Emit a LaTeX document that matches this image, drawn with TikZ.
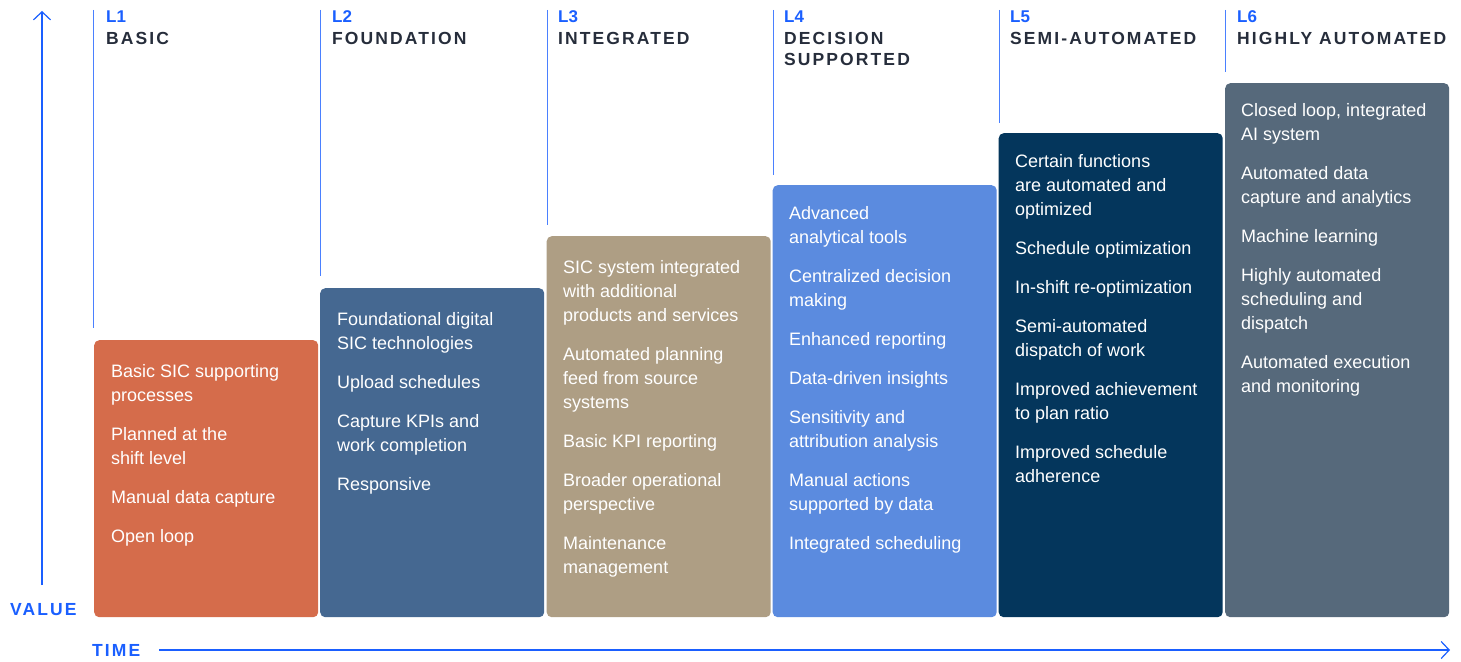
\documentclass[tikz,border=0pt]{standalone}
\usepackage{fontspec}
\setmainfont{Liberation Sans}
\newfontfamily\headfont[LetterSpace=12]{Liberation Sans Bold}
\newfontfamily\tagfont{Liberation Sans Bold}
\usetikzlibrary{arrows.meta}

\definecolor{axisblue}{HTML}{1A5FFF}
\definecolor{ruleblue}{HTML}{4A80FF}
\definecolor{headink}{HTML}{262D3B}
\definecolor{lvone}{HTML}{D56C4B}
\definecolor{lvtwo}{HTML}{456891}
\definecolor{lvthree}{HTML}{AE9E84}
\definecolor{lvfour}{HTML}{5B8BDF}
\definecolor{lvfive}{HTML}{04365C}
\definecolor{lvsix}{HTML}{56697B}

\tikzset{
  levelbox/.style={anchor=north west, inner sep=0pt, minimum width=224pt,
    rounded corners=5pt, draw=none},
  itemtext/.style={anchor=north west, inner sep=0pt, align=left, text=white,
    font=\fontsize{18}{24}\selectfont},
  leveltag/.style={anchor=base west, inner sep=0pt, text=axisblue,
    font=\tagfont\fontsize{17}{21}\selectfont},
  levelname/.style={anchor=base west, inner sep=0pt, align=left, text=headink,
    font=\headfont\fontsize{17.5}{21}\selectfont},
  axislabel/.style={anchor=base west, inner sep=0pt, text=axisblue,
    font=\headfont\fontsize{17.5}{21}\selectfont},
  divider/.style={draw=ruleblue, line width=1pt},
  axisline/.style={draw=axisblue, line width=1.2pt,
    -{Straight Barb[length=8pt,width=17pt,line width=1.2pt]}},
}

\begin{document}
\begin{tikzpicture}[x=1pt,y=-1pt]
\useasboundingbox (0,0) rectangle (1461,661);

% level columns: coloured boxes
\node[levelbox, fill=lvone,   minimum height=277pt] (b1) at (94,340) {};
\node[levelbox, fill=lvtwo,   minimum height=329pt] (b2) at (320,288) {};
\node[levelbox, fill=lvthree, minimum height=381pt] (b3) at (546.5,236) {};
\node[levelbox, fill=lvfour,  minimum height=432pt] (b4) at (772.5,185) {};
\node[levelbox, fill=lvfive,  minimum height=484pt] (b5) at (998.5,133) {};
\node[levelbox, fill=lvsix,   minimum height=534pt] (b6) at (1225,83) {};

% dividers above each box
\draw[divider] (93.5,10) -- (93.5,328);
\draw[divider] (320.5,10) -- (320.5,276);
\draw[divider] (547,10) -- (547,225);
\draw[divider] (773,10) -- (773,175);
\draw[divider] (999,10) -- (999,123);
\draw[divider] (1225.5,10) -- (1225.5,72);

% level tags and names
\node[leveltag] (k1) at (106,23) {L1};
\node[leveltag] (k2) at (332,23) {L2};
\node[leveltag] (k3) at (558,23) {L3};
\node[leveltag] (k4) at (784,23) {L4};
\node[leveltag] (k5) at (1010,23) {L5};
\node[leveltag] (k6) at (1237,23) {L6};

\node[levelname] (n1) at (106,44.5) {BASIC};
\node[levelname] (n2) at (332,44.5) {FOUNDATION};
\node[levelname] (n3) at (558,44.5) {INTEGRATED};
% two-line name: base anchor sits on the last line
\node[levelname] (n4) at (784,65.5) {DECISION\\SUPPORTED};
\node[levelname] (n5) at (1010,44.5) {SEMI-AUTOMATED};
\node[levelname] (n6) at (1237,44.5) {HIGHLY AUTOMATED};

% box contents
\node[itemtext] (t1) at (111,364) {Basic SIC supporting\\processes\\[15pt]Planned at the\\shift level\\[15pt]Manual data capture\\[15pt]Open loop};
\node[itemtext] (t2) at (337,312) {Foundational digital\\SIC technologies\\[15pt]Upload schedules\\[15pt]Capture KPIs and\\work completion\\[15pt]Responsive};
\node[itemtext] (t3) at (563,260) {SIC system integrated\\with additional\\products and services\\[15pt]Automated planning\\feed from source\\systems\\[15pt]Basic KPI reporting\\[15pt]Broader operational\\perspective\\[15pt]Maintenance\\management};
\node[itemtext] (t4) at (789,206) {Advanced\\analytical tools\\[15pt]Centralized decision\\making\\[15pt]Enhanced reporting\\[15pt]Data-driven insights\\[15pt]Sensitivity and\\attribution analysis\\[15pt]Manual actions\\supported by data\\[15pt]Integrated scheduling};
\node[itemtext] (t5) at (1015,154) {Certain functions\\are automated and\\optimized\\[15pt]Schedule optimization\\[15pt]In-shift re-optimization\\[15pt]Semi-automated\\dispatch of work\\[15pt]Improved achievement\\to plan ratio\\[15pt]Improved schedule\\adherence};
\node[itemtext] (t6) at (1241,103) {Closed loop, integrated\\AI system\\[15pt]Automated data\\capture and analytics\\[15pt]Machine learning\\[15pt]Highly automated\\scheduling and\\dispatch\\[15pt]Automated execution\\and monitoring};

% axes
\coordinate (vstart) at (42,585);
\coordinate (vend) at (42,11);
\coordinate (hstart) at (159,650);
\coordinate (hend) at (1450,650);
\draw[axisline] (vstart) -- (vend);
\draw[axisline] (hstart) -- (hend);
\node[axislabel] (value) at (10,615.5) {VALUE};
\node[axislabel] (time) at (92,656.5) {TIME};
\end{tikzpicture}
\end{document}
